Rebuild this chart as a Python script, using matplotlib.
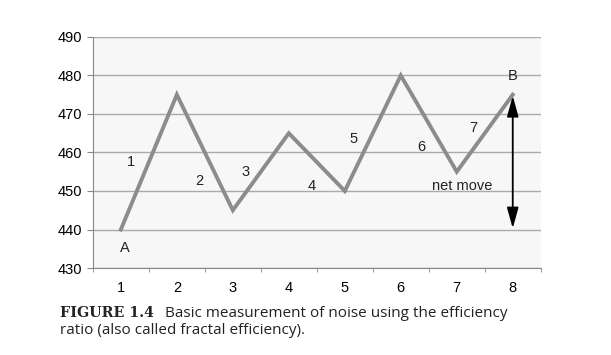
import matplotlib.pyplot as plt

# dados do gráfico
pontos = [1, 2, 3, 4, 5, 6, 7, 8]
precos = [440, 475, 445, 465, 450, 480, 455, 475]
rotulos_seg = ['1', '2', '3', '4', '5', '6', '7']
rotulos_x = [1.18, 2.41, 3.23, 4.41, 5.16, 6.36, 7.3]
rotulos_y = [457.5, 452.6, 455.0, 451.3, 463.5, 461.4, 466.4]

plt.rcParams['font.family'] = ['Liberation Sans', 'DejaVu Sans']

fig = plt.figure(figsize=(6.11, 3.55), dpi=100)
ax = fig.add_axes([0.152, 0.245, 0.733, 0.651])
ax.set_facecolor('#f7f7f7')

ax.plot(pontos, precos, color='#8c8c8c', lw=2.8, solid_joinstyle='miter', zorder=3)

for r, x, y in zip(rotulos_seg, rotulos_x, rotulos_y):
    ax.text(x, y, r, fontsize=10.5, ha='center', va='center', color='#222222', zorder=4)

ax.text(1.07, 435.2, 'A', fontsize=10.5, ha='center', va='center', color='#222222')
ax.text(8.0, 479.9, 'B', fontsize=10.5, ha='center', va='center', color='#222222')
ax.text(7.1, 451.3, 'net move', fontsize=10.5, ha='center', va='center', color='#222222')

# seta do movimento líquido
ax.annotate('', xy=(8, precos[-1] - 0.3), xytext=(8, precos[0] + 0.3),
            arrowprops=dict(arrowstyle='<|-|>,head_length=0.9,head_width=0.25',
                            color='black', lw=1.3,
                            mutation_scale=14, shrinkA=0, shrinkB=0), zorder=5)

ax.set_xlim(0.5, 8.5)
ax.set_ylim(430, 490)
ax.set_yticks(range(430, 491, 10))
ax.yaxis.grid(True, color='#aaaaaa', lw=1)
ax.set_axisbelow(True)

ax.set_xticks(pontos)
ax.set_xticks([p + 0.5 for p in range(0, 9)], minor=True)
ax.tick_params(axis='x', which='major', length=0, labelsize=10.5, pad=9)
ax.tick_params(axis='x', which='minor', length=3, color='#888888')
ax.tick_params(axis='y', length=4, color='#888888', labelsize=10.5)

for s in ['top', 'right']:
    ax.spines[s].set_visible(False)
ax.spines['left'].set_color('#888888')
ax.spines['bottom'].set_color('#888888')

fig.text(0.098, 0.107, 'FIGURE 1.4', fontsize=10.3, family='DejaVu Serif',
         weight='bold', color='#222222', va='baseline')
fig.text(0.270, 0.107, 'Basic measurement of noise using the efficiency',
         fontsize=11, family='Open Sans', color='#222222', va='baseline')
fig.text(0.098, 0.058, 'ratio (also called fractal efficiency).',
         fontsize=11, family='Open Sans', color='#222222', va='baseline')

fig.savefig('out.png', dpi=100)
